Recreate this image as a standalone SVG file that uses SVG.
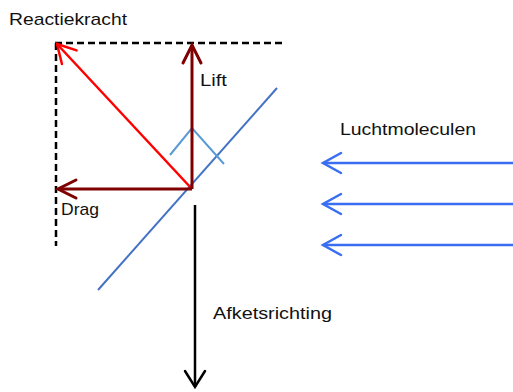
<svg xmlns="http://www.w3.org/2000/svg" width="513" height="392" viewBox="0 0 513 392">
<style>
  text { font-family: "Liberation Sans", Arial, sans-serif; font-size: 17px; fill: #111; }
  .dash { fill: none; stroke: #000; stroke-width: 2.5; stroke-dasharray: 7 4; }
  .res { fill: none; stroke: #FF0000; stroke-width: 2.5; }
  .comp { fill: none; stroke: #7F0000; stroke-width: 3; }
  .wing { fill: none; stroke: #4472C4; stroke-width: 2; }
  .angle { fill: none; stroke: #5B9BD5; stroke-width: 2; }
  .air { fill: none; stroke: #3A6EF2; stroke-width: 2.5; }
  .fall { fill: none; stroke: #000; stroke-width: 2.5; }
</style>
<defs>
  <marker id="mRed" markerUnits="userSpaceOnUse" viewBox="-22 -13 24 26" markerWidth="24" markerHeight="26" refX="0" refY="0" orient="auto" overflow="visible">
    <path d="M-18,-10 L0,0 L-18,10" fill="none" stroke="#FF0000" stroke-width="2.5" stroke-linecap="round"/>
  </marker>
  <marker id="mDark" markerUnits="userSpaceOnUse" viewBox="-22 -13 24 26" markerWidth="24" markerHeight="26" refX="0" refY="0" orient="auto" overflow="visible">
    <path d="M-18,-9 L0,0 L-18,9" fill="none" stroke="#7F0000" stroke-width="3" stroke-linecap="round"/>
  </marker>
  <marker id="mAir" markerUnits="userSpaceOnUse" viewBox="-22 -13 24 26" markerWidth="24" markerHeight="26" refX="0" refY="0" orient="auto" overflow="visible">
    <path d="M-18,-10 L0,0 L-18,10" fill="none" stroke="#3A6EF2" stroke-width="2.5" stroke-linecap="round"/>
  </marker>
  <marker id="mBlack" markerUnits="userSpaceOnUse" viewBox="-22 -13 24 26" markerWidth="24" markerHeight="26" refX="0" refY="0" orient="auto" overflow="visible">
    <path d="M-16,-10 L0,0 L-16,10" fill="none" stroke="#000" stroke-width="2.5" stroke-linecap="round"/>
  </marker>
</defs>

<g id="frame">
  <path class="dash" d="M55,43 H284"/>
  <path class="dash" d="M56,43 V246"/>
</g>

<g id="wing">
  <path class="wing" d="M98,290 L277,88"/>
  <path class="angle" d="M170,155 L192,128 L224,164"/>
</g>

<g id="connectors">
  <path id="reactiekracht" class="res" d="M192,189 L57,44" marker-end="url(#mRed)"/>
  <path id="lift" class="comp" d="M192,189 V45" marker-end="url(#mDark)"/>
  <path id="drag" class="comp" d="M192,189 H58" marker-end="url(#mDark)"/>
  <path id="afketsrichting" class="fall" d="M195,205 V387" marker-end="url(#mBlack)"/>
  <path id="air1" class="air" d="M513,163 H323" marker-end="url(#mAir)"/>
  <path id="air2" class="air" d="M513,204 H323" marker-end="url(#mAir)"/>
  <path id="air3" class="air" d="M513,245 H323" marker-end="url(#mAir)"/>
</g>

<g id="label-reactiekracht"><text x="9" y="25" textLength="118" lengthAdjust="spacingAndGlyphs">Reactiekracht</text></g>
<g id="label-lift"><text x="200" y="86" textLength="27" lengthAdjust="spacingAndGlyphs">Lift</text></g>
<g id="label-drag"><text x="61" y="215" textLength="38" lengthAdjust="spacingAndGlyphs">Drag</text></g>
<g id="label-luchtmoleculen"><text x="340" y="135" textLength="136" lengthAdjust="spacingAndGlyphs">Luchtmoleculen</text></g>
<g id="label-afketsrichting"><text x="213" y="319" textLength="119" lengthAdjust="spacingAndGlyphs">Afketsrichting</text></g>
</svg>
